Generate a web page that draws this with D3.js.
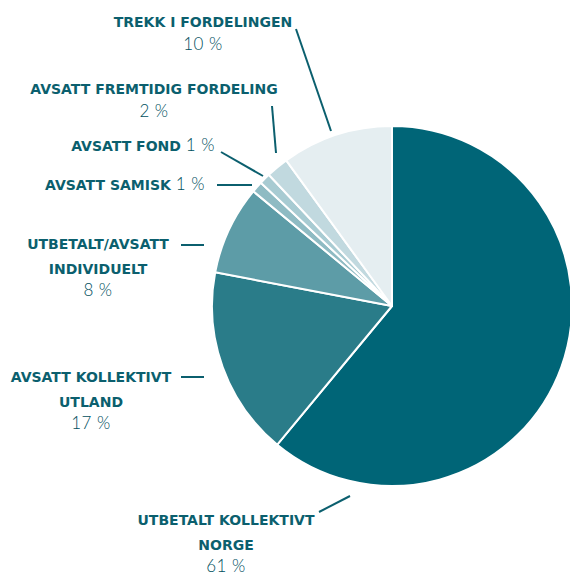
<!DOCTYPE html>
<html lang="no">
<head>
<meta charset="UTF-8">
<script src="https://d3js.org/d3.v7.min.js"></script>
<style>
  body { margin: 0; background: #fff; }
  .lbl { font-family: "DejaVu Sans", sans-serif; font-weight: bold; font-size: 14px; fill: #0b5f6e; }
  .pct { font-family: Lato, "Open Sans", sans-serif; font-weight: 300; font-size: 17px; fill: #004f5e; letter-spacing: 0.5px; }
  .lead { stroke: #0b5f6e; stroke-width: 2px; }
</style>
</head>
<body>
<svg id="chart" width="570" height="572"></svg>
<script>
// data, clockwise from 12 o'clock
const categories = ["UTBETALT KOLLEKTIVT NORGE", "AVSATT KOLLEKTIVT UTLAND", "UTBETALT/AVSATT INDIVIDUELT",
                    "AVSATT SAMISK", "AVSATT FOND", "AVSATT FREMTIDIG FORDELING", "TREKK I FORDELINGEN"];
const values = [61, 17, 8, 1, 1, 2, 10];
const colors = ["#006577", "#2a7c89", "#5d9ca7", "#8fbbc3", "#a8cbd2", "#c1d9df", "#e5eef1"];

// label layout: lines of bold text, anchor x, first baseline y
const labelLines = [
  ["UTBETALT KOLLEKTIVT", "NORGE"],
  ["AVSATT KOLLEKTIVT", "UTLAND"],
  ["UTBETALT/AVSATT", "INDIVIDUELT"],
  ["AVSATT SAMISK"],
  ["AVSATT FOND"],
  ["AVSATT FREMTIDIG FORDELING"],
  ["TREKK I FORDELINGEN"]
];
const labelInline = [false, false, false, true, true, false, false];
const labelX = [226, 91, 98, 205, 215, 154, 203];
const labelY = [525, 382, 249, 190, 151, 94, 27];
const leaders = [
  [[319, 512], [350, 496]],
  [[181, 377], [204, 377]],
  [[181, 245], [204, 245]],
  [[217, 185], [252, 185]],
  [[221, 152], [263, 176]],
  [[272, 106], [276, 153]],
  [[296, 29], [331, 131]]
];

const svg = d3.select("#chart");
const cx = 392, cy = 306, r = 180;

const pie = d3.pie().sort(null).value(d => d)(values);
const arc = d3.arc().innerRadius(0).outerRadius(r);

svg.append("g")
  .attr("transform", `translate(${cx},${cy})`)
  .selectAll("path")
  .data(pie)
  .join("path")
  .attr("d", arc)
  .attr("fill", (d, i) => colors[i])
  .attr("stroke", "#fff")
  .attr("stroke-width", 2)
  .attr("stroke-linejoin", "round");

svg.selectAll("line.lead")
  .data(leaders)
  .join("line")
  .attr("class", "lead")
  .attr("x1", d => d[0][0]).attr("y1", d => d[0][1])
  .attr("x2", d => d[1][0]).attr("y2", d => d[1][1]);

categories.forEach((c, i) => {
  const g = svg.append("g");
  if (labelInline[i]) {
    const t = g.append("text").attr("x", labelX[i]).attr("y", labelY[i]).attr("text-anchor", "end");
    t.append("tspan").attr("class", "lbl").text(labelLines[i][0] + " ");
    t.append("tspan").attr("class", "pct").text(values[i] + " %");
  } else {
    labelLines[i].forEach((ln, j) => {
      g.append("text").attr("class", "lbl")
        .attr("x", labelX[i]).attr("y", labelY[i] + j * 24.5)
        .attr("text-anchor", "middle").text(ln);
    });
    g.append("text").attr("class", "pct")
      .attr("x", labelX[i]).attr("y", labelY[i] + labelLines[i].length * 24.5 - 2)
      .attr("text-anchor", "middle").text(values[i] + " %");
  }
});
</script>
</body>
</html>
